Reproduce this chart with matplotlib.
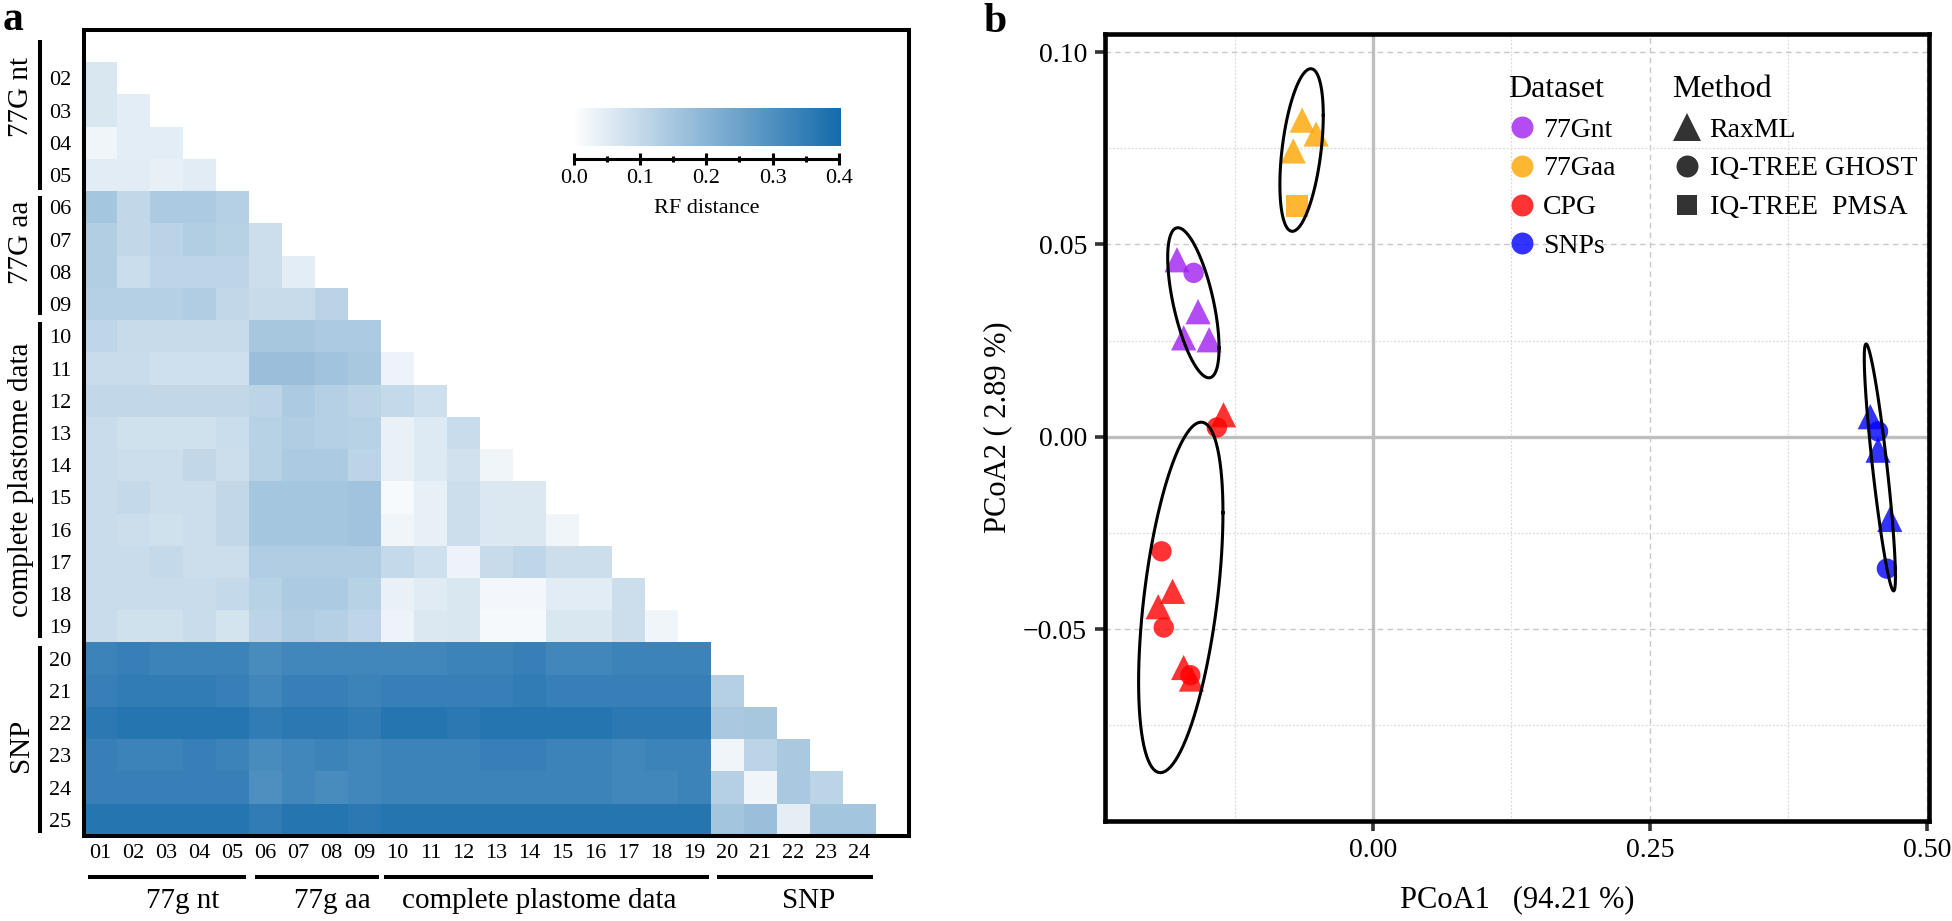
import numpy as np
import matplotlib
matplotlib.use("Agg")
import matplotlib.pyplot as plt
from matplotlib.colors import LinearSegmentedColormap
from matplotlib.lines import Line2D
from matplotlib.transforms import blended_transform_factory
from matplotlib.ticker import MultipleLocator

plt.rcParams['font.family'] = ['Liberation Serif', 'DejaVu Serif']

# ---------------- panel a data ----------------
row_labels = ['%02d' % i for i in range(2, 26)]
col_labels = ['%02d' % i for i in range(1, 25)]

rf_rows = [
    [0.065],
    [0.065, 0.048],
    [0.026, 0.048, 0.048],
    [0.05, 0.05, 0.04, 0.05],
    [0.153, 0.104, 0.14, 0.14, 0.126],
    [0.131, 0.104, 0.117, 0.131, 0.12, 0.087],
    [0.131, 0.09, 0.112, 0.112, 0.112, 0.087, 0.048],
    [0.126, 0.126, 0.126, 0.134, 0.104, 0.095, 0.095, 0.117],
    [0.11, 0.095, 0.095, 0.095, 0.095, 0.15, 0.15, 0.14, 0.14],
    [0.093, 0.093, 0.083, 0.083, 0.083, 0.17, 0.17, 0.16, 0.148, 0.03],
    [0.104, 0.104, 0.104, 0.104, 0.104, 0.115, 0.14, 0.125, 0.115, 0.10, 0.083],
    [0.093, 0.08, 0.08, 0.08, 0.09, 0.12, 0.134, 0.126, 0.12, 0.036, 0.056, 0.093],
    [0.093, 0.087, 0.087, 0.104, 0.087, 0.12, 0.14, 0.14, 0.115, 0.036, 0.056, 0.077, 0.026],
    [0.093, 0.10, 0.087, 0.087, 0.104, 0.153, 0.153, 0.153, 0.16, 0.014, 0.04, 0.087, 0.06, 0.06],
    [0.093, 0.087, 0.08, 0.087, 0.104, 0.153, 0.153, 0.153, 0.16, 0.027, 0.04, 0.087, 0.06, 0.06, 0.026],
    [0.093, 0.093, 0.10, 0.087, 0.087, 0.134, 0.134, 0.134, 0.134, 0.10, 0.083, 0.03, 0.095, 0.108, 0.087, 0.087],
    [0.093, 0.093, 0.093, 0.093, 0.10, 0.12, 0.14, 0.14, 0.12, 0.036, 0.052, 0.065, 0.02, 0.02, 0.05, 0.05, 0.087],
    [0.093, 0.08, 0.08, 0.093, 0.073, 0.115, 0.134, 0.126, 0.11, 0.03, 0.06, 0.065, 0.017, 0.017, 0.065, 0.065, 0.087, 0.026],
    [0.33, 0.34, 0.33, 0.33, 0.33, 0.31, 0.32, 0.32, 0.32, 0.32, 0.32, 0.33, 0.33, 0.34, 0.32, 0.32, 0.33, 0.33, 0.33],
    [0.34, 0.35, 0.35, 0.35, 0.34, 0.32, 0.34, 0.34, 0.33, 0.34, 0.34, 0.34, 0.34, 0.35, 0.34, 0.34, 0.34, 0.34, 0.34, 0.125],
    [0.36, 0.37, 0.37, 0.37, 0.37, 0.35, 0.36, 0.36, 0.35, 0.37, 0.37, 0.36, 0.37, 0.37, 0.37, 0.37, 0.36, 0.36, 0.36, 0.145, 0.15],
    [0.34, 0.33, 0.33, 0.34, 0.33, 0.31, 0.32, 0.33, 0.32, 0.33, 0.33, 0.33, 0.34, 0.34, 0.33, 0.33, 0.32, 0.33, 0.33, 0.025, 0.115, 0.145],
    [0.34, 0.34, 0.34, 0.34, 0.34, 0.30, 0.32, 0.31, 0.32, 0.33, 0.33, 0.33, 0.33, 0.33, 0.33, 0.33, 0.32, 0.32, 0.33, 0.125, 0.025, 0.145, 0.115],
    [0.37, 0.37, 0.37, 0.37, 0.37, 0.35, 0.37, 0.37, 0.36, 0.37, 0.37, 0.37, 0.37, 0.37, 0.37, 0.37, 0.37, 0.37, 0.37, 0.155, 0.17, 0.045, 0.155, 0.155],
]

row_group_names = ['77G nt', '77G aa', 'complete plastome data', 'SNP']
col_group_names = ['77g nt', '77g aa', 'complete plastome data', 'SNP']

# ---------------- panel b data ----------------
ds_names = ['77Gnt', '77Gaa', 'CPG', 'SNPs']
ds_colors = ['#A020F0', '#FFA500', '#FF0000', '#0000FF']
method_names = ['RaxML', 'IQ-TREE GHOST', 'IQ-TREE  PMSA']
method_markers = ['^', 'o', 's']

pt_dataset = ['77Gnt'] * 5 + ['77Gaa'] * 4 + ['CPG'] * 9 + ['SNPs'] * 5
pt_method = ['RaxML', 'IQ-TREE GHOST', 'RaxML', 'RaxML', 'RaxML',
             'RaxML', 'RaxML', 'RaxML', 'IQ-TREE  PMSA',
             'RaxML', 'IQ-TREE GHOST', 'IQ-TREE GHOST', 'RaxML', 'RaxML',
             'IQ-TREE GHOST', 'RaxML', 'IQ-TREE GHOST', 'RaxML',
             'RaxML', 'IQ-TREE GHOST', 'RaxML', 'RaxML', 'IQ-TREE GHOST']
pcoa1 = [-0.177, -0.162, -0.158, -0.171, -0.148,
         -0.064, -0.0514, -0.072, -0.0686,
         -0.135, -0.141, -0.191, -0.181, -0.194, -0.189, -0.171, -0.165, -0.164,
         0.449, 0.456, 0.456, 0.4666, 0.464]
pcoa2 = [0.046, 0.0426, 0.0325, 0.0257, 0.0252,
         0.0823, 0.0787, 0.0743, 0.060,
         0.0057, 0.0024, -0.0298, -0.0402, -0.0442, -0.0496, -0.060, -0.062, -0.063,
         0.0052, 0.0014, -0.0035, -0.0215, -0.0343]

# ---------------- figure ----------------
fig = plt.figure(figsize=(19.52, 9.21), dpi=100)

# ---- panel a: heatmap
n = len(row_labels) + 1
M = np.full((n, n), np.nan)
for i, vals in enumerate(rf_rows):
    M[i + 1, :len(vals)] = vals

cmap = LinearSegmentedColormap.from_list('rf', ['#FFFFFF', '#146AAB'])
ax = fig.add_axes([0.0430, 0.0923, 0.4226, 0.8751])
im = ax.imshow(M, cmap=cmap, vmin=0, vmax=0.4, aspect='auto',
               interpolation='nearest', extent=(0, n, n, 0))
ax.set_xlim(0, n)
ax.set_ylim(n, 0)
ax.set_yticks(np.arange(1, n) + 0.5)
ax.set_yticklabels(row_labels)
ax.set_xticks(np.arange(0, n - 1) + 0.5)
ax.set_xticklabels(col_labels)
ax.tick_params(axis='both', length=0, labelsize=16)
ax.tick_params(axis='y', pad=9)
ax.tick_params(axis='x', pad=6)
for s in ax.spines.values():
    s.set_linewidth(2.9)
    s.set_color('black')

ty = blended_transform_factory(ax.transAxes, ax.transData)
tx = blended_transform_factory(ax.transData, ax.transAxes)
row_spans = [(0.3, 4.95), (5.15, 8.85), (9.05, 18.85), (19.1, 24.9)]
col_spans = [(0.12, 4.9), (5.18, 8.94), (9.09, 18.94), (19.18, 23.9)]
row_label_pos = [2.08, 6.58, 13.96, 22.2]
col_label_pos = [2.98, 7.52, 13.8, 21.97]
for (a, b), name, yp in zip(row_spans, row_group_names, row_label_pos):
    ax.plot([-0.0533, -0.0533], [a, b], transform=ty, color='black',
            lw=2.9, clip_on=False, solid_capstyle='butt')
    ax.text(-0.076, yp, name, transform=ty, rotation=90, ha='center',
            va='center', fontsize=21)
for (a, b), name, xp in zip(col_spans, col_group_names, col_label_pos):
    ax.plot([a, b], [-0.0509, -0.0509], transform=tx, color='black',
            lw=2.9, clip_on=False, solid_capstyle='butt')
    ax.text(xp, -0.081, name, transform=tx, ha='center', va='center',
            fontsize=21)

# colorbar
cax = ax.inset_axes([0.5915, 0.8561, 0.3261, 0.0471])
cb = fig.colorbar(im, cax=cax, orientation='horizontal')
cb.outline.set_visible(False)
cb.set_ticks([])
sax = ax.inset_axes([0.5939, 0.840, 0.3212, 0.0005])
sax.set_xlim(0, 0.4)
sax.patch.set_visible(False)
for k in ['left', 'right', 'top']:
    sax.spines[k].set_visible(False)
sax.spines['bottom'].set_linewidth(2.2)
sax.set_yticks([])
sax.xaxis.set_major_locator(MultipleLocator(0.1))
sax.xaxis.set_minor_locator(MultipleLocator(0.05))
sax.xaxis.set_major_formatter(matplotlib.ticker.FormatStrFormatter('%.1f'))
sax.tick_params(axis='x', which='major', direction='inout', length=8,
                width=2.2, labelsize=16, pad=3)
sax.tick_params(axis='x', which='minor', direction='inout', length=5, width=2.2)
sax.set_xlabel('RF distance', fontsize=16, labelpad=8)

fig.text(0.0015, 0.9674, 'a', fontsize=30, fontweight='bold', va='baseline')

# ---- panel b: PCoA
ax2 = fig.add_axes([0.5661, 0.1086, 0.4221, 0.8545])
ax2.set_xlim(-0.242, 0.502)
ax2.set_ylim(-0.0999, 0.1047)
ax2.xaxis.set_major_locator(MultipleLocator(0.25))
ax2.xaxis.set_minor_locator(MultipleLocator(0.125))
ax2.yaxis.set_major_locator(MultipleLocator(0.05))
ax2.yaxis.set_minor_locator(MultipleLocator(0.025))
ax2.xaxis.set_major_formatter(matplotlib.ticker.FormatStrFormatter('%.2f'))
ax2.yaxis.set_major_formatter(matplotlib.ticker.FuncFormatter(
    lambda v, p: ('%.2f' % v).replace('-', '\u2212') if abs(v) > 1e-9 else '0.00'))
ax2.grid(which='major', ls=(0, (4, 3)), color='#C8C8C8', lw=1.0)
ax2.grid(which='minor', ls=(0, (1.5, 1.5)), color='#DADADA', lw=0.9)
ax2.set_axisbelow(True)
ax2.axhline(0, color='#BEBEBE', lw=2.4, zorder=1)
ax2.axvline(0, color='#BEBEBE', lw=2.4, zorder=1)
ax2.tick_params(which='major', direction='out', length=7, width=2.6,
                color='#333333', labelsize=20)
ax2.tick_params(axis='y', pad=6)
ax2.tick_params(axis='x', pad=5)
ax2.tick_params(which='minor', length=0)
for s in ax2.spines.values():
    s.set_linewidth(3.3)
    s.set_color('black')

ds_arr = np.array(pt_dataset)
me_arr = np.array(pt_method)
x_arr = np.array(pcoa1)
y_arr = np.array(pcoa2)
msize = {'^': 330, 'o': 215, 's': 250}

for dn, col in zip(ds_names, ds_colors):
    for mn, mk in zip(method_names, method_markers):
        sel = (ds_arr == dn) & (me_arr == mn)
        if sel.any():
            ax2.scatter(x_arr[sel], y_arr[sel], marker=mk, s=msize[mk],
                        color=col, alpha=0.8, edgecolors='none', zorder=3)


def cov_trob(X, nu=5, tol=1e-4, maxit=25):
    nn, p = X.shape
    loc = X.mean(axis=0)
    w = np.ones(nn)
    Xc = X - loc
    for _ in range(maxit):
        w0 = w
        Xc = X - loc
        S = (Xc * (w / w.sum())[:, None]).T @ Xc
        Q = np.einsum('ij,jk,ik->i', Xc, np.linalg.inv(S), Xc)
        w = (nu + p) / (nu + Q)
        loc = (w[:, None] * X).sum(axis=0) / w.sum()
        if np.all(np.abs(w - w0) < tol):
            break
    cov = (Xc * w[:, None]).T @ Xc / nn
    return loc, cov


level = 0.83
theta = np.linspace(0, 2 * np.pi, 101)
circle = np.column_stack([np.cos(theta), np.sin(theta)])
for dn in ds_names:
    sel = ds_arr == dn
    X = np.column_stack([x_arr[sel], y_arr[sel]])
    center, shape = cov_trob(X)
    dfd = X.shape[0] - 1
    fq = (dfd / 2.0) * ((1 - level) ** (-2.0 / dfd) - 1)
    radius = np.sqrt(2 * fq)
    L = np.linalg.cholesky(shape)
    ell = center + radius * (circle @ L.T)
    ax2.plot(ell[:, 0], ell[:, 1], color='black', lw=2.2, zorder=4)

ax2.set_xlabel('PCoA1   (94.21 %)', fontsize=22, labelpad=16)
ax2.set_ylabel('PCoA2 ( 2.89 %)', fontsize=22, labelpad=8)

h1 = [Line2D([], [], ls='', marker='o', color=c, alpha=0.8, markersize=15.8,
             markeredgewidth=0) for c in ds_colors]
h2 = [Line2D([], [], ls='', marker=m, color='black', alpha=0.8,
             markersize={'^': 19.5, 'o': 15.8, 's': 15}[m], markeredgewidth=0)
      for m in method_markers]
leg_kw = dict(loc='upper left', frameon=False, fontsize=20, title_fontsize=23,
              alignment='left', borderpad=0, borderaxespad=0,
              labelspacing=0.48)
leg1 = ax2.legend(h1, ds_names, title='Dataset',
                  bbox_to_anchor=(0.489, 0.948), handlelength=1.0,
                  handletextpad=0.26, **leg_kw)
ax2.add_artist(leg1)
ax2.legend(h2, method_names, title='Method',
           bbox_to_anchor=(0.688, 0.948), handlelength=1.08,
           handletextpad=0.28, **leg_kw)

fig.text(0.5036, 0.9656, 'b', fontsize=30, fontweight='bold', va='baseline')

fig.savefig('out.png', dpi=100)
